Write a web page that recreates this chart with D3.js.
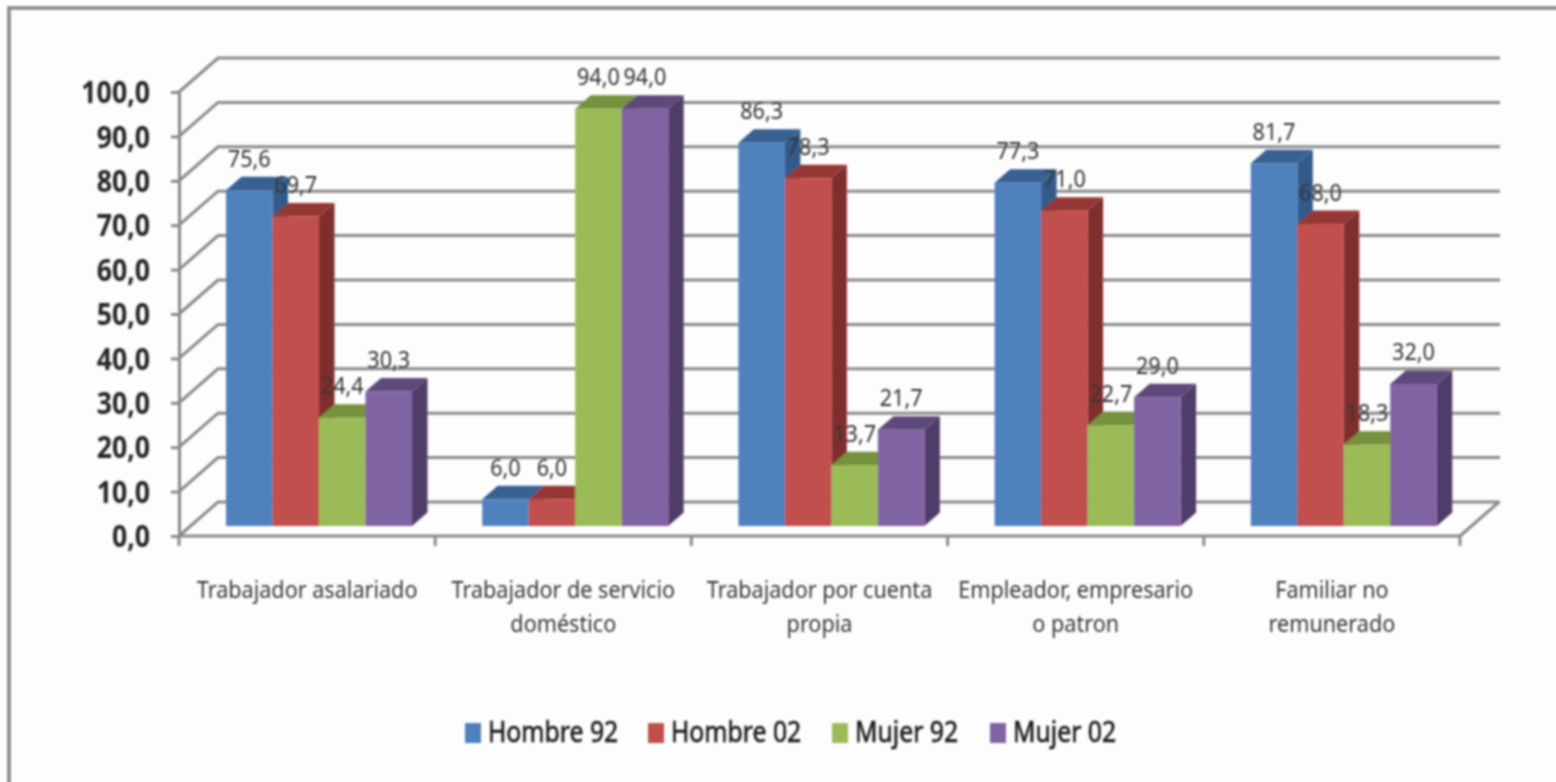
<!DOCTYPE html>
<html>
<head>
<meta charset="utf-8">
<script src="https://cdn.jsdelivr.net/npm/d3@7"></script>
<style>
html, body { margin: 0; padding: 0; background: #fdfdfd; overflow: hidden; }
text { font-family: "Noto Sans", sans-serif; }
</style>
</head>
<body>
<svg id="svg" width="1556" height="782"></svg>
<script>
var categories = [
  ["Trabajador asalariado"],
  ["Trabajador de servicio", "doméstico"],
  ["Trabajador por cuenta", "propia"],
  ["Empleador, empresario", "o patron"],
  ["Familiar no", "remunerado"]
];
var seriesNames = ["Hombre 92", "Hombre 02", "Mujer 92", "Mujer 02"];
var hombre92 = [75.6, 6.0, 86.3, 77.3, 81.7];
var hombre02 = [69.7, 6.0, 78.3, 71.0, 68.0];
var mujer92 = [24.4, 94.0, 13.7, 22.7, 18.3];
var mujer02 = [30.3, 94.0, 21.7, 29.0, 32.0];
var seriesValues = [hombre92, hombre02, mujer92, mujer02];
var yTicks = [0, 10, 20, 30, 40, 50, 60, 70, 80, 90, 100];

var front = ["#4f81bd", "#c0504d", "#9bbb59", "#8064a2"];
var top_ = ["#376092", "#953735", "#76923c", "#5f4a7b"];
var side = ["#335a8a", "#7f2f2d", "#76923c", "#503d69"];
var grid = "#8a8a8a";

var fmt = function(v) { return d3.format(".1f")(v).replace(".", ","); };

var svg = d3.select("#svg");
var defs = svg.append("defs");
defs.append("filter").attr("id", "soft")
  .attr("filterUnits", "userSpaceOnUse")
  .attr("x", 0).attr("y", 0).attr("width", 1556).attr("height", 782)
  .append("feGaussianBlur").attr("stdDeviation", 0.8);
var g = svg.append("g").attr("filter", "url(#soft)");

// the fonts here are too wide, so squeeze the text sideways
function squeezed(px, py, sx) {
  return "translate(" + px + "," + py + ") scale(" + sx + ",1)";
}

// outer frame, runs off the right and bottom of the picture
g.append("path").attr("d", "M1570,8H9V795")
  .attr("fill", "none").attr("stroke", "#858585").attr("stroke-width", 3.5);

var y = d3.scaleLinear().domain([0, 100]).range([536, 92]);
var x = d3.scaleBand().domain(d3.range(categories.length)).range([179, 1460]);
var xs = d3.scaleBand().domain(d3.range(seriesNames.length)).range([47, 233]);

// depth of the walls and of the bars
var wallX = 39, wallY = 34;
var barLift = 10, barX = 15.5, barY = 13.5;

// walls: each gridline goes back from the axis then along the back
g.selectAll(".grid").data(yTicks).enter().append("path")
  .attr("class", "grid")
  .attr("fill", "none").attr("stroke", grid).attr("stroke-width", 3)
  .attr("d", function(d) {
    return "M" + x.range()[0] + "," + y(d) + "l" + wallX + "," + (-wallY) + "H" + (x.range()[1] + wallX + 1);
  });
g.append("path")
  .attr("fill", "none").attr("stroke", grid).attr("stroke-width", 3)
  .attr("d", "M" + x.range()[1] + "," + y(0) + "l" + wallX + "," + (-wallY));

// axes
var yAxis = g.append("g").attr("transform", "translate(179,0)")
  .call(d3.axisLeft(y).tickValues(yTicks).tickFormat(fmt).tickSize(8).tickPadding(21).tickSizeOuter(0));
yAxis.selectAll("path,line").attr("stroke", grid).attr("stroke-width", 3);
yAxis.selectAll("text")
  .attr("fill", "#262626").attr("font-size", 30).attr("font-weight", "bold")
  .style("font-family", '"Noto Sans", sans-serif')
  .attr("transform", "translate(-29,1) scale(.89,1) translate(29,0)");

var xTicks = d3.range(categories.length + 1).map(function(i) { return 179 + i * x.step(); });
g.append("path")
  .attr("fill", "none").attr("stroke", grid).attr("stroke-width", 3)
  .attr("d", "M179," + y(0) + "H" + xTicks[5]);
g.selectAll(".xtick").data(xTicks).enter().append("line")
  .attr("class", "xtick")
  .attr("x1", function(d) { return d; }).attr("x2", function(d) { return d; })
  .attr("y1", y(0)).attr("y2", y(0) + 10)
  .attr("stroke", grid).attr("stroke-width", 3);

// bars, left to right so the next bar covers the side of the one before
var labels = [];
categories.forEach(function(c, i) {
  seriesValues.forEach(function(vals, s) {
    var x0 = x(i) + xs(s), w = xs.bandwidth();
    var yt = y(vals[i]) - barLift, yb = y(0) - barLift;
    g.append("path").attr("fill", side[s])
      .attr("d", "M" + (x0 + w) + "," + yt + "l" + barX + "," + (-barY) + "V" + (yb - barY) + "l" + (-barX) + "," + barY + "Z");
    g.append("path").attr("fill", top_[s])
      .attr("d", "M" + x0 + "," + yt + "l" + barX + "," + (-barY) + "h" + w + "l" + (-barX) + "," + barY + "Z");
    g.append("rect").attr("fill", front[s])
      .attr("x", x0).attr("y", yt).attr("width", w).attr("height", yb - yt);
    labels.push({ x: x0 + w / 2, y: yt - 23.5, t: fmt(vals[i]) });
  });
});

g.selectAll(".lab").data(labels).enter().append("text")
  .attr("class", "lab")
  .attr("transform", function(d) { return squeezed(d.x, d.y, 0.94); })
  .attr("text-anchor", "middle")
  .attr("font-size", 23).attr("fill", "#333")
  .text(function(d) { return d.t; });

// category labels
categories.forEach(function(lines, i) {
  lines.forEach(function(l, k) {
    g.append("text")
      .attr("transform", squeezed(x(i) + x.bandwidth() / 2, 598 + k * 34, 0.9))
      .attr("text-anchor", "middle")
      .attr("font-size", 24).attr("fill", "#383838")
      .text(l);
  });
});

// legend
var legendX = [465, 648, 832, 990];
seriesNames.forEach(function(n, s) {
  g.append("rect").attr("x", legendX[s]).attr("y", 723).attr("width", 16).attr("height", 20).attr("fill", front[s]);
  g.append("text").attr("transform", squeezed(legendX[s] + 23, 742, 0.855))
    .attr("font-size", 29).attr("fill", "#1a1a1a").attr("stroke", "#1a1a1a").attr("stroke-width", 0.6)
    .text(n);
});
</script>
</body>
</html>
